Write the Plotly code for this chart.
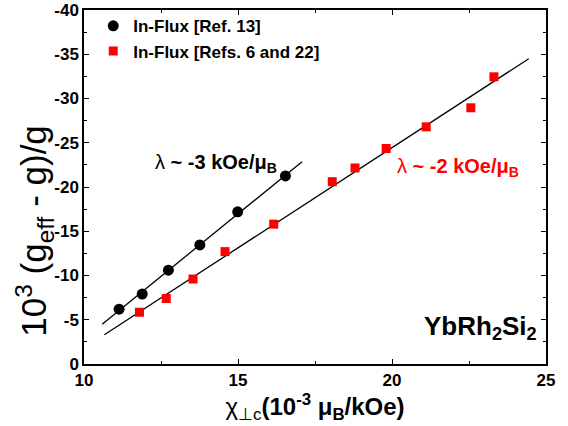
import plotly.graph_objects as go

# Data
ref13_x = [11.14, 11.89, 12.74, 13.76, 14.99, 16.54]
ref13_y = [-6.2, -7.9, -10.6, -13.45, -17.2, -21.25]
ref622_x = [11.80, 12.67, 13.54, 14.58, 16.16, 18.06, 18.80, 19.81, 21.11, 22.56, 23.31]
ref622_y = [-5.85, -7.4, -9.6, -12.7, -15.8, -20.6, -22.15, -24.35, -26.8, -28.95, -32.45]
fit13_x = [10.59, 17.08]
fit13_y = [-4.5, -22.85]
fit622_x = [10.66, 24.44]
fit622_y = [-3.3, -34.5]
x_ticks = [10, 15, 20, 25]
y_ticks = [0, -5, -10, -15, -20, -25, -30, -35, -40]

FONT = "Liberation Sans, Arial, sans-serif"

fig = go.Figure()
fig.add_trace(go.Scatter(x=fit13_x, y=fit13_y, mode="lines",
                         line=dict(color="black", width=1.3), showlegend=False, hoverinfo="skip"))
fig.add_trace(go.Scatter(x=fit622_x, y=fit622_y, mode="lines",
                         line=dict(color="black", width=1.3), showlegend=False, hoverinfo="skip"))
fig.add_trace(go.Scatter(x=ref13_x, y=ref13_y, mode="markers", name="<b>In-Flux [Ref. 13]</b>",
                         marker=dict(symbol="circle", size=11, color="black")))
fig.add_trace(go.Scatter(x=ref622_x, y=ref622_y, mode="markers", name="<b>In-Flux [Refs. 6 and 22]</b>",
                         marker=dict(symbol="square", size=9, color="#ff0000")))

axis_common = dict(showgrid=False, zeroline=False, showline=True, linecolor="black",
                   linewidth=1.5, mirror="allticks", ticks="inside", ticklen=5,
                   tickcolor="black", tickwidth=1, automargin=False,
                   tickfont=dict(family=FONT, size=17, color="black"),
                   minor=dict(ticks="inside", ticklen=3, tickcolor="black", dtick=2.5))

fig.update_xaxes(range=[10, 25], tickvals=x_ticks, ticktext=["<b>%d</b>" % v for v in x_ticks],
                 title=dict(text="χ<sub>⊥c</sub><b>(10<sup>-3</sup> μ<sub>B</sub>/kOe)</b>",
                            font=dict(family=FONT, size=24, color="black"), standoff=0),
                 **axis_common)
fig.update_yaxes(range=[0, -40], tickvals=y_ticks, ticktext=["<b>%d</b>" % v for v in y_ticks],
                 **axis_common)

# y-axis title placed as a rotated annotation (it sits below the axis centre in the reference)
fig.add_annotation(x=-0.165, y=0.377, xref="paper", yref="paper", showarrow=False,
                   textangle=-90, text="10<sup>3</sup> (g<sub>eff</sub> - g)/g",
                   font=dict(family=FONT, size=35, color="black"))

fig.add_annotation(x=14.3, y=-22.7, xref="x", yref="y", showarrow=False,
                   text="λ<b> ~ -3 kOe/μ<sub>B</sub></b>",
                   font=dict(family=FONT, size=20, color="black"))
fig.add_annotation(x=22.15, y=-22.2, xref="x", yref="y", showarrow=False,
                   text="λ<b> ~ -2 kOe/μ<sub>B</sub></b>",
                   font=dict(family=FONT, size=20, color="#ff0000"))
fig.add_annotation(x=0.985, y=0.05, xref="paper", yref="paper", xanchor="right", yanchor="bottom",
                   showarrow=False, text="<b>YbRh<sub>2</sub>Si<sub>2</sub></b>",
                   font=dict(family=FONT, size=26, color="black"))

fig.update_layout(width=568, height=426, plot_bgcolor="white", paper_bgcolor="white",
                  margin=dict(l=84, r=22, t=10, b=62, autoexpand=False),
                  legend=dict(x=0.02, y=1.005, xanchor="left", yanchor="top",
                              bgcolor="rgba(0,0,0,0)", tracegroupgap=0,
                              font=dict(family=FONT, size=17, color="black")),
                  showlegend=True)

# remove the default 8px page margin so the figure fills the window exactly
fig.write_html("out.html", config={"displayModeBar": False},
               post_script="document.body.style.margin='0';")
